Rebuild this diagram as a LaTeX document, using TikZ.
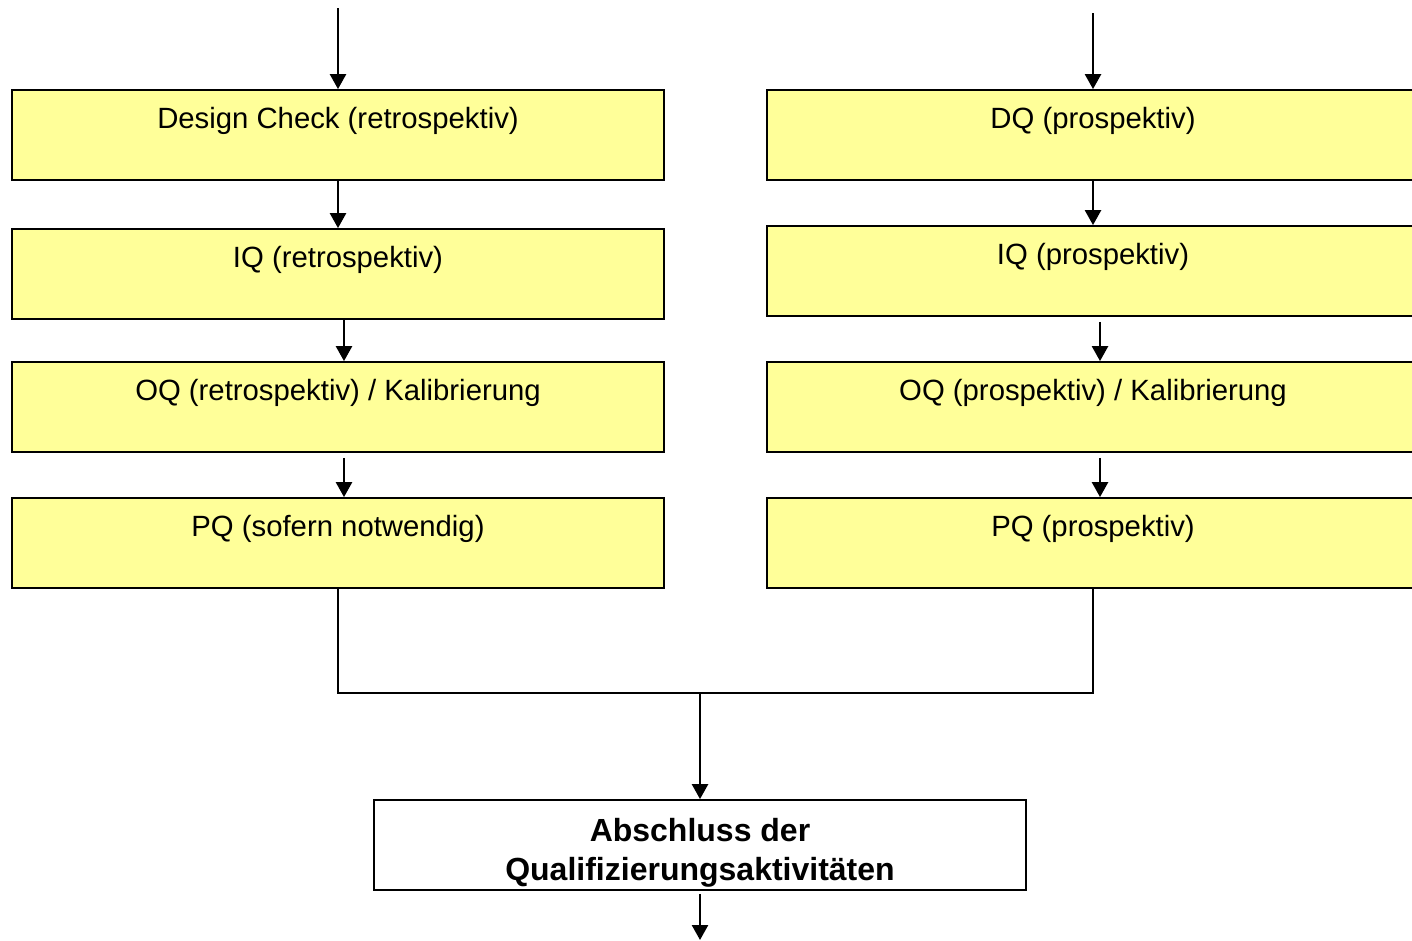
\documentclass[tikz,border=0pt]{standalone}
\usepackage{fontspec}
\setmainfont{Liberation Sans}
\usepackage{xcolor}
\definecolor{qyellow}{HTML}{FFFF99}
\usepackage{tikz}
\usetikzlibrary{calc, arrows.meta}

\begin{document}
\begin{tikzpicture}[x=1pt, y=-1pt,
  stage/.style={draw, line width=1.8pt, fill=qyellow, minimum width=652pt, minimum height=90pt, align=center, inner sep=0pt},
  finish/.style={stage, fill=white, font=\fontsize{32}{39}\selectfont\bfseries},
  flow/.style={line width=2.5pt, -{Triangle[width=16pt, length=15pt]}}]
\useasboundingbox (0,0) rectangle (1412,940);
\fill[white] (0,0) rectangle (1412,940);
\clip (0,0) rectangle (1412,940);
\fontsize{29.3}{39}\selectfont
\foreach \n/\x/\y/\t in {
dcL/338/135/{Design Check (retrospektiv)}, iqL/338/274/{IQ (retrospektiv)},
oqL/338/407/{OQ (retrospektiv) / Kalibrierung}, pqL/338/543/{PQ (sofern notwendig)},
dqR/1093/135/{DQ (prospektiv)}, iqR/1093/271/{IQ (prospektiv)},
oqR/1093/407/{OQ (prospektiv) / Kalibrierung}, pqR/1093/543/{PQ (prospektiv)}
}{
\node[stage] (\n) at (\x,\y) {\t\\[-4pt]~};
}
\node[finish] (done) at (700,845) {\rule{0pt}{39pt}Abschluss der\\Qualifizierungsaktivitäten};
\coordinate (inL) at (338,8);
\coordinate (inR) at (1093,13);
\coordinate (join) at (700,693);
\coordinate (outB) at (700,940);
% left column
\draw[flow] (inL) -- (dcL.north);
\draw[flow] (dcL.south) -- (iqL.north);
\draw[flow] ($(iqL.south)+(6,0)$) -- ($(oqL.north)+(6,0)$);
\draw[flow] ($(oqL.south)+(6,5)$) -- ($(pqL.north)+(6,0)$);
% right column
\draw[flow] (inR) -- (dqR.north);
\draw[flow] (dqR.south) -- (iqR.north);
\draw[flow] ($(iqR.south)+(7,5)$) -- ($(oqR.north)+(7,0)$);
\draw[flow] ($(oqR.south)+(7,5)$) -- ($(pqR.north)+(7,0)$);
% merge
\draw[line width=2.5pt] (pqL.south) |- (join) -| (pqR.south);
\draw[flow] (join) -- (done.north);
\draw[flow] ($(done.south)+(0,3)$) -- (outB);
\end{tikzpicture}
\end{document}
